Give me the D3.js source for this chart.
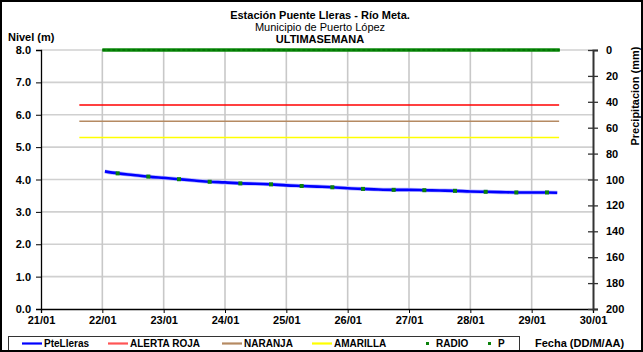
<!DOCTYPE html>
<html><head><meta charset="utf-8">
<script src="https://cdn.jsdelivr.net/npm/d3@7"></script>
<style>
html,body{margin:0;padding:0;background:#fff;}
svg{display:block;font-family:"Liberation Sans",Arial,sans-serif;}
</style></head>
<body>
<svg id="chart" width="643" height="352"></svg>
<script>
// ---- data ----
const titulo = ["Estación Puente Lleras - Río Meta.", "Municipio de Puerto López", "ULTIMASEMANA"];
const xDominio = ["21/01 00:00", "30/01 00:00"];
const xTicks = ["21/01","22/01","23/01","24/01","25/01","26/01","27/01","28/01","29/01","30/01"];
const nivelTicks = [0,1,2,3,4,5,6,7,8];
const precTicks = [0,20,40,60,80,100,120,140,160,180,200];

const nivelFechas = ["22/01 01:00","22/01 06:00","22/01 12:00","22/01 18:00",
  "23/01 00:00","23/01 06:00","23/01 12:00","23/01 18:00",
  "24/01 00:00","24/01 06:00","24/01 12:00","24/01 18:00",
  "25/01 00:00","25/01 06:00","25/01 12:00","25/01 18:00",
  "26/01 00:00","26/01 06:00","26/01 12:00","26/01 18:00",
  "27/01 00:00","27/01 06:00","27/01 12:00","27/01 18:00",
  "28/01 00:00","28/01 06:00","28/01 12:00","28/01 18:00",
  "29/01 00:00","29/01 06:00","29/01 10:00"];
const nivelValores = [4.25,4.19,4.14,4.09,
  4.05,4.01,3.97,3.93,
  3.91,3.88,3.87,3.85,
  3.82,3.80,3.78,3.76,
  3.73,3.71,3.69,3.68,
  3.68,3.67,3.66,3.65,
  3.63,3.62,3.61,3.60,
  3.60,3.60,3.59];

const radioFechas = ["22/01 06:00","22/01 18:00","23/01 06:00","23/01 18:00","24/01 06:00",
  "24/01 18:00","25/01 06:00","25/01 18:00","26/01 06:00","26/01 18:00",
  "27/01 06:00","27/01 18:00","28/01 06:00","28/01 18:00","29/01 06:00"];
const radioValores = [4.19,4.09,4.01,3.93,3.88,3.85,3.80,3.76,3.71,3.68,3.67,3.65,3.62,3.60,3.60];

const pFechas = ["22/01 00:00","22/01 12:00","23/01 00:00","23/01 12:00","24/01 00:00","24/01 12:00",
  "25/01 00:00","25/01 12:00","26/01 00:00","26/01 12:00","27/01 00:00","27/01 12:00",
  "28/01 00:00","28/01 12:00","29/01 00:00","29/01 11:00"];
const pValores = [0,0,0,0,0,0,0,0,0,0,0,0,0,0,0,0];

const alertaNombres = ["ALERTA ROJA","NARANJA","AMARILLA"];
const alertaValores = [6.3, 5.8, 5.3];
const alertaDesde = "21/01 15:00";
const alertaHasta = "29/01 10:45";

const leyenda = ["PteLleras","ALERTA ROJA","NARANJA","AMARILLA","RADIO","P"];

// ---- drawing ----
const parse = d3.timeParse("%d/%m %H:%M");
const svg = d3.select("#chart");
const L = 41, R = 593, T = 50, B = 309;

const x = d3.scaleTime().domain(xDominio.map(parse)).range([L, R]);
const y = d3.scaleLinear().domain([0, 8]).range([B, T]);
const y2 = d3.scaleLinear().domain([0, 200]).range([T, B]);

const bold = "bold";
// grid
svg.append("g").selectAll("line.h").data(nivelTicks.slice(1)).join("line")
  .attr("x1", L).attr("x2", R).attr("y1", d => y(d)).attr("y2", d => y(d))
  .attr("stroke", "#d0d0d0").attr("stroke-width", 1.6);
svg.append("g").selectAll("line.v").data(xTicks.slice(1, -1)).join("line")
  .attr("x1", d => x(parse(d + " 00:00"))).attr("x2", d => x(parse(d + " 00:00")))
  .attr("y1", T).attr("y2", B)
  .attr("stroke", "#c8c8c8").attr("stroke-width", 1.6);

// alert lines
const alertaColores = ["#ff0000", "#b58a62", "#ffff00"];
svg.append("g").selectAll("line").data(alertaValores).join("line")
  .attr("x1", x(parse(alertaDesde))).attr("x2", x(parse(alertaHasta)))
  .attr("y1", d => y(d)).attr("y2", d => y(d))
  .attr("stroke", (d, i) => alertaColores[i]).attr("stroke-width", 1.5);

// P series (precipitation, right axis)
const pData = pFechas.map((f, i) => ({t: parse(f), v: pValores[i]}));
svg.append("path").datum(pData)
  .attr("d", d3.line().x(d => x(d.t)).y(d => y2(d.v)))
  .attr("fill", "none").attr("stroke", "#0a8a0a").attr("stroke-width", 3.4);
svg.append("path").datum(pData)
  .attr("d", d3.line().x(d => x(d.t)).y(d => y2(d.v)))
  .attr("fill", "none").attr("stroke", "#006e00").attr("stroke-width", 1.5)
  .attr("stroke-dasharray", "3,2");

// level line
const nData = nivelFechas.map((f, i) => ({t: parse(f), v: nivelValores[i]}));
svg.append("path").datum(nData)
  .attr("d", d3.line().x(d => x(d.t)).y(d => y(d.v)).curve(d3.curveMonotoneX))
  .attr("fill", "none").attr("stroke", "#b8b8ff").attr("stroke-width", 4);
svg.append("path").datum(nData)
  .attr("d", d3.line().x(d => x(d.t)).y(d => y(d.v)).curve(d3.curveMonotoneX))
  .attr("fill", "none").attr("stroke", "#0000ff").attr("stroke-width", 2.6);

// radio points
const rData = radioFechas.map((f, i) => ({t: parse(f), v: radioValores[i]}));
svg.append("g").selectAll("rect").data(rData).join("rect")
  .attr("x", d => x(d.t) - 2).attr("y", d => y(d.v) - 2)
  .attr("width", 4).attr("height", 4).attr("fill", "#0b820b");

// left axis
const gl = svg.append("g").attr("transform", `translate(${L},0)`)
  .call(d3.axisLeft(y).tickValues(nivelTicks).tickFormat(d3.format(".1f")).tickSize(5).tickPadding(5));
gl.select(".domain").attr("stroke", "#000").attr("stroke-width", 1.3);
gl.selectAll("text").attr("font-size", 11).attr("font-weight", bold).attr("fill", "#000")
  .attr("font-family", "Liberation Sans, Arial, sans-serif");

// bottom axis
const gb = svg.append("g").attr("transform", `translate(0,${B})`)
  .call(d3.axisBottom(x).tickValues(xTicks.map(d => parse(d + " 00:00")))
    .tickFormat(d3.timeFormat("%d/%m")).tickSize(4).tickPadding(3));
gb.select(".domain").attr("stroke", "#000").attr("stroke-width", 1.3);
gb.selectAll("text").attr("font-size", 11).attr("font-weight", bold).attr("fill", "#000")
  .attr("font-family", "Liberation Sans, Arial, sans-serif");

// right axis
const gr = svg.append("g").attr("transform", `translate(${R},0)`)
  .call(d3.axisRight(y2).tickValues(precTicks).tickSize(5).tickPadding(8));
gr.select(".domain").attr("stroke", "#333").attr("stroke-width", 2);
gr.selectAll(".tick line").attr("x1", -5).attr("stroke", "#333").attr("stroke-width", 1.3);
gr.selectAll("text").attr("font-size", 11).attr("font-weight", bold).attr("fill", "#000")
  .attr("font-family", "Liberation Sans, Arial, sans-serif");

// titles
const tx = 320;
svg.append("text").attr("x", tx).attr("y", 19).attr("text-anchor", "middle")
  .attr("font-size", 11).attr("font-weight", "bold").text(titulo[0]);
svg.append("text").attr("x", tx).attr("y", 31).attr("text-anchor", "middle")
  .attr("font-size", 11).text(titulo[1]);
svg.append("text").attr("x", tx).attr("y", 43).attr("text-anchor", "middle")
  .attr("font-size", 11).attr("font-weight", "bold").text(titulo[2]);
svg.append("text").attr("x", 8).attr("y", 41).attr("font-size", 11).attr("font-weight", "bold").text("Nivel (m)");
svg.append("text").attr("transform", "translate(639,96) rotate(-90)").attr("text-anchor", "middle")
  .attr("font-size", 11).attr("font-weight", "bold").text("Precipitacion (mm)");
svg.append("text").attr("x", 535).attr("y", 347).attr("font-size", 11).attr("font-weight", "bold").text("Fecha (DD/M/AA)");

// legend
svg.append("rect").attr("x", 8.5).attr("y", 336.5).attr("width", 511).attr("height", 14)
  .attr("fill", "#fff").attr("stroke", "#333").attr("stroke-width", 1);
const legX = [22, 108, 222, 312, 420, 482];
const legColor = ["#0000ff", "#ff5555", "#b58a62", "#ffff00", "#0b820b", "#0b820b"];
const legTipo = ["line", "line", "line", "line", "dot", "dot"];
const lg = svg.append("g").selectAll("g").data(leyenda).join("g")
  .attr("transform", (d, i) => `translate(${legX[i]},343.5)`);
lg.filter((d, i) => legTipo[i] === "line").append("line")
  .attr("x1", 0).attr("x2", 20).attr("y1", 0).attr("y2", 0)
  .attr("stroke", (d) => legColor[leyenda.indexOf(d)]).attr("stroke-width", 2.2);
lg.filter((d, i) => legTipo[i] === "dot").append("rect")
  .attr("x", 6).attr("y", -1.5).attr("width", 3).attr("height", 3)
  .attr("fill", (d) => legColor[leyenda.indexOf(d)]);
lg.append("text").attr("x", (d, i) => legTipo[i] === "line" ? 22 : 16).attr("y", 3.8)
  .attr("font-size", 10).attr("font-weight", "bold").text(d => d);

// outer frame
svg.append("rect").attr("x", 1).attr("y", 1).attr("width", 641).attr("height", 350)
  .attr("fill", "none").attr("stroke", "#000").attr("stroke-width", 2);
</script>
</body></html>
